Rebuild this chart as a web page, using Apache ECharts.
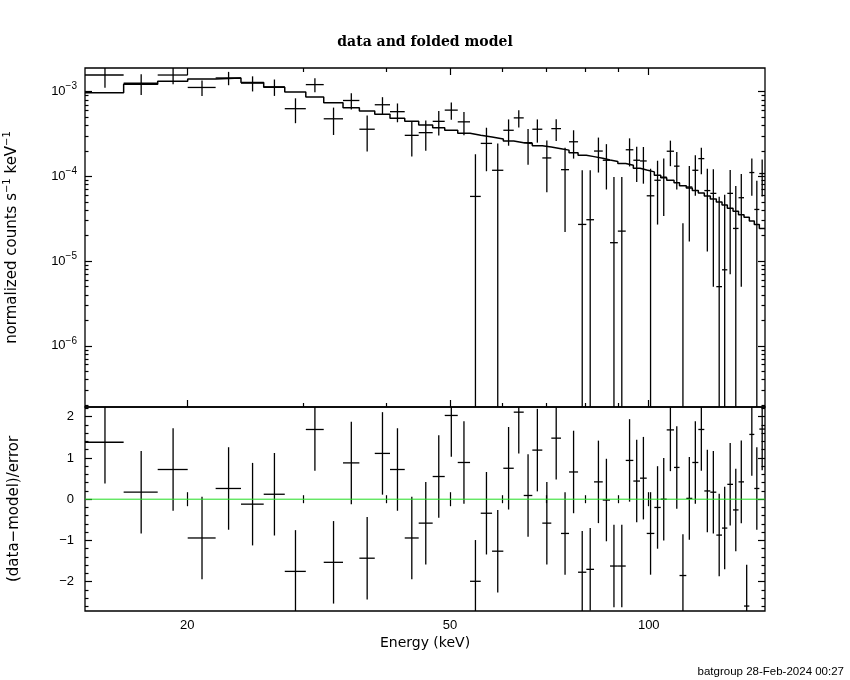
<!DOCTYPE html>
<html>
<head>
<meta charset="utf-8">
<title>data and folded model</title>
<script src="https://cdn.jsdelivr.net/npm/echarts@6/dist/echarts.min.js"></script>
<style>
  html, body { margin: 0; padding: 0; background: #fff; }
  #main { width: 850px; height: 680px; }
</style>
</head>
<body>
<div id="main"></div>
<script>
// energy bin edges (keV), 59 bins
var binEdges = [14.00, 16.02, 18.04, 20.03, 22.08, 24.12, 26.11, 28.10, 30.24, 32.19,
  34.43, 36.45, 38.46, 40.56, 42.70, 44.83, 47.07, 49.09, 51.37, 53.62,
  55.66, 57.90, 60.22, 62.45, 64.66, 66.63, 68.99, 71.19, 73.64, 75.73,
  78.15, 80.44, 82.63, 85.18, 87.37, 89.78, 92.29, 94.77, 97.01, 99.30,
  101.97, 104.27, 106.47, 109.22, 111.33, 114.00, 116.41, 118.88, 121.39, 123.96,
  126.58, 129.12, 131.53, 134.17, 136.77, 139.42, 142.02, 144.51, 147.06, 150.00];

// folded model, counts s^-1 keV^-1
var foldedModel = [9.73e-4, 1.22e-3, 1.33e-3, 1.41e-3, 1.45e-3, 1.28e-3, 1.13e-3, 9.9e-4, 8.63e-4, 7.41e-4,
  6.47e-4, 5.90e-4, 5.40e-4, 4.84e-4, 4.46e-4, 4.05e-4, 3.76e-4, 3.49e-4, 3.22e-4, 3.05e-4,
  2.91e-4, 2.76e-4, 2.61e-4, 2.50e-4, 2.45e-4, 2.30e-4, 2.22e-4, 2.12e-4, 2.04e-4, 1.90e-4,
  1.77e-4, 1.71e-4, 1.64e-4, 1.56e-4, 1.50e-4, 1.42e-4, 1.35e-4, 1.25e-4, 1.19e-4, 1.13e-4,
  1.03e-4, 9.65e-5, 9.0e-5, 8.4e-5, 7.75e-5, 7.28e-5, 6.8e-5, 6.35e-5, 5.85e-5, 5.39e-5,
  5.0e-5, 4.59e-5, 4.2e-5, 3.87e-5, 3.53e-5, 3.3e-5, 2.97e-5, 2.70e-5, 2.43e-5];

// measured rate and its 1-sigma error
var dataRate = [1.57e-3, 1.256e-3, 1.57e-3, 1.12e-3, 1.45e-3, 1.26e-3, 1.14e-3, 6.29e-4, 1.21e-3, 4.78e-4,
  7.86e-4, 3.6e-4, 7.0e-4, 5.8e-4, 3.05e-4, 3.28e-4, 4.46e-4, 6.05e-4, 4.4e-4, 5.8e-5,
  2.45e-4, 1.18e-4, 3.5e-4, 4.9e-4, 2.5e-4, 3.6e-4, 1.65e-4, 3.66e-4, 1.2e-4, 2.56e-4,
  2.71e-5, 3.08e-5, 1.99e-4, 1.55e-4, 1.65e-5, 2.26e-5, 2.06e-4, 1.55e-4, 1.52e-4, 5.9e-5,
  9.0e-5, 9.8e-5, 1.98e-4, 1.32e-4, -3.0e-5, 7.5e-5, 1.18e-4, 1.62e-4, 6.8e-5, 6.3e-5,
  5.0e-6, 7.9e-6, 6.3e-5, 2.43e-5, 5.6e-5, -9.5e-5, 1.11e-4, 4.07e-5, 1.08e-4];
var dataError = [4.6e-4, 3.44e-4, 3.5e-4, 2.35e-4, 2.6e-4, 2.55e-4, 2.5e-4, 2.05e-4, 2.25e-4, 1.7e-4,
  1.7e-4, 1.63e-4, 1.6e-4, 1.45e-4, 1.33e-4, 1.28e-4, 1.43e-4, 1.4e-4, 1.35e-4, 1.24e-4,
  1.3e-4, 1.27e-4, 1.2e-4, 1.13e-4, 1.13e-4, 1.1e-4, 1.0e-4, 1.05e-4, 9.8e-5, 9.4e-5,
  9.1e-5, 8.7e-5, 8.8e-5, 8.5e-5, 8.15e-5, 7.6e-5, 7.5e-5, 6.9e-5, 7.0e-5, 6.4e-5,
  6.3e-5, 6.4e-5, 6.6e-5, 6.2e-5, 5.8e-5, 5.8e-5, 5.9e-5, 5.6e-5, 5.5e-5, 5.8e-5,
  5.25e-5, 5.3e-5, 5.6e-5, 5.25e-5, 5.1e-5, 5.0e-5, 5.2e-5, 4.8e-5, 5.0e-5];

// (data-model)/error
var residual = [1.38, 0.17, 0.72, -0.94, 0.26, -0.12, 0.12, -1.75, 1.69, -1.53,
  0.88, -1.43, 1.11, 0.72, -0.94, -0.58, 0.55, 2.03, 0.89, -1.99,
  -0.34, -1.26, 0.75, 2.11, 0.09, 1.19, -0.58, 1.48, -0.83, 0.66,
  -1.77, -1.70, 0.42, -0.02, -1.62, -1.62, 0.94, 0.44, 0.51, -0.83,
  -0.20, 0.00, 1.68, 0.77, -1.85, 0.02, 0.89, 1.69, 0.20, 0.17,
  -0.87, -0.70, 0.36, -0.26, 0.42, -2.59, 1.57, 0.26, 1.70];

var energyRange = [14, 150];
var rateRange = [1.9e-7, 1.9e-3];
var residRange = [-2.71, 2.235];

var energyMajorTicks = [20, 50, 100];
var energyMinorTicks = [30, 40, 60, 70, 80, 90];
var rateDecades = [-6, -5, -4, -3];
var residMajorTicks = [-2, -1, 0, 1, 2];

var lg = Math.log10;
var FONT = 'Liberation Sans';
var NAME_FONT = 'DejaVu Sans';

var rateMinorTicks = [];
[-7, -6, -5, -4].forEach(function (n) {
  for (var k = 2; k <= 9; k++) rateMinorTicks.push(lg(k) + n);
});
var residMinorTicks = [];
for (var i = -13; i <= 11; i++) if (i % 5 !== 0) residMinorTicks.push(i / 5);

var eExt = [lg(energyRange[0]), lg(energyRange[1])];
var rExt = [lg(rateRange[0]), lg(rateRange[1])];
var below = rExt[0] - 1;

function tickAxis(grid, pos, ticks, len, extent, label) {
  var ax = {
    type: 'value', gridIndex: grid, position: pos,
    min: extent[0], max: extent[1],
    axisLine: { show: false },
    splitLine: { show: false },
    axisTick: { show: true, inside: true, length: len, customValues: ticks,
      lineStyle: { color: '#000', width: 1.2 } },
    axisLabel: { show: false }
  };
  if (label) {
    ax.axisLabel = Object.assign({ show: true, customValues: ticks, color: '#000',
      fontFamily: FONT, fontSize: 13 }, label);
  }
  return ax;
}

var eMajor = energyMajorTicks.map(lg);
var eMinor = energyMinorTicks.map(lg);

var xAxes = [
  tickAxis(0, 'bottom', eMajor, 7, eExt),
  tickAxis(0, 'bottom', eMinor, 4, eExt),
  tickAxis(0, 'top', eMajor, 7, eExt),
  tickAxis(0, 'top', eMinor, 4, eExt),
  tickAxis(1, 'bottom', eMajor, 7, eExt, {
    margin: 8,
    formatter: function (v) { return String(Math.round(Math.pow(10, v))); }
  }),
  tickAxis(1, 'bottom', eMinor, 4, eExt),
  tickAxis(1, 'top', eMajor, 7, eExt),
  tickAxis(1, 'top', eMinor, 4, eExt)
];
xAxes[4].name = 'Energy (keV)';
xAxes[4].nameLocation = 'middle';
xAxes[4].nameGap = 25;
xAxes[4].nameTextStyle = { fontFamily: NAME_FONT, fontSize: 14, color: '#000' };

var yAxes = [
  tickAxis(0, 'left', rateDecades, 7, rExt, {
    margin: 8,
    formatter: function (v) { return '{b|10}{s|\u2212' + Math.round(-v) + '}'; },
    rich: {
      b: { fontFamily: FONT, fontSize: 13, color: '#000' },
      s: { fontFamily: FONT, fontSize: 10, color: '#000', padding: [0, 0, 10, 0] }
    }
  }),
  tickAxis(0, 'left', rateMinorTicks, 3.5, rExt),
  tickAxis(0, 'right', rateDecades, 7, rExt),
  tickAxis(0, 'right', rateMinorTicks, 3.5, rExt),
  tickAxis(1, 'left', residMajorTicks, 7, residRange, {
    margin: 11,
    formatter: function (v) { return v < 0 ? '\u2212' + (-v) : String(v); }
  }),
  tickAxis(1, 'left', residMinorTicks, 3.5, residRange),
  tickAxis(1, 'right', residMajorTicks, 7, residRange),
  tickAxis(1, 'right', residMinorTicks, 3.5, residRange)
];
yAxes[0].name = 'normalized counts s{sup|\u22121} keV{sup|\u22121}';
yAxes[0].nameLocation = 'middle';
yAxes[0].nameGap = 63;
yAxes[0].nameTextStyle = { fontFamily: NAME_FONT, fontSize: 15, color: '#000',
  rich: { sup: { fontFamily: NAME_FONT, fontSize: 10, color: '#000', padding: [0, 0, 10, 0] } } };
yAxes[4].name = '(data\u2212model)/error';
yAxes[4].nameLocation = 'middle';
yAxes[4].nameGap = 63;
yAxes[4].nameTextStyle = { fontFamily: NAME_FONT, fontSize: 15, color: '#000' };

// step model: value holds across each bin
var modelLine = foldedModel.map(function (m, i) { return [lg(binEdges[i]), lg(m)]; });
modelLine.push([lg(binEdges[binEdges.length - 1]), lg(foldedModel[foldedModel.length - 1])]);

function binRow(i, y, ylo, yhi, hasBar) {
  var lo = binEdges[i], hi = binEdges[i + 1];
  return [lg(lo), lg(hi), lg((lo + hi) / 2), y, ylo, yhi, hasBar];
}

var rateRows = dataRate.map(function (d, i) {
  var e = dataError[i];
  return binRow(i,
    d > 0 ? lg(d) : below,
    d - e > 0 ? lg(d - e) : below,
    d + e > 0 ? lg(d + e) : below,
    d > 0 ? 1 : 0);
});
var residRows = residual.map(function (r, i) {
  return binRow(i, r, r - 1, r + 1, 1);
});

var inkStyle = { stroke: '#000', lineWidth: 1.3 };
function errorCross(params, api) {
  var a = api.coord([api.value(0), api.value(3)]);
  var b = api.coord([api.value(1), api.value(3)]);
  var t = api.coord([api.value(2), api.value(5)]);
  var u = api.coord([api.value(2), api.value(4)]);
  var kids = [{ type: 'line', shape: { x1: u[0], y1: u[1], x2: t[0], y2: t[1] }, style: inkStyle }];
  if (api.value(6)) {
    kids.push({ type: 'line', shape: { x1: a[0], y1: a[1], x2: b[0], y2: b[1] }, style: inkStyle });
  }
  return { type: 'group', children: kids };
}

var chart = echarts.init(document.getElementById('main'), null, { renderer: 'canvas' });
chart.setOption({
  animation: false,
  backgroundColor: '#fff',
  title: [{
    text: 'data and folded model', left: 'center', top: 30,
    textStyle: { fontFamily: 'DejaVu Serif', fontWeight: 'bold', fontSize: 14, color: '#000' }
  }, {
    text: 'batgroup 28-Feb-2024 00:27', right: 1, top: 661,
    textStyle: { fontFamily: FONT, fontWeight: 'normal', fontSize: 11.5, color: '#000' }
  }],
  grid: [
    { left: 85, top: 68, width: 680, height: 339, show: true, borderColor: '#000', borderWidth: 1.3,
      backgroundColor: 'transparent', containLabel: false, outerBoundsMode: 'none' },
    { left: 85, top: 407, width: 680, height: 204, show: true, borderColor: '#000', borderWidth: 1.3,
      backgroundColor: 'transparent', containLabel: false, outerBoundsMode: 'none' }
  ],
  xAxis: xAxes,
  yAxis: yAxes,
  series: [
    {
      type: 'line', xAxisIndex: 0, yAxisIndex: 0, step: 'end', symbol: 'none',
      data: modelLine, lineStyle: { color: '#000', width: 1.5 }, z: 3
    },
    {
      type: 'custom', xAxisIndex: 0, yAxisIndex: 0, clip: true,
      renderItem: errorCross, data: rateRows, z: 2
    },
    {
      type: 'custom', xAxisIndex: 4, yAxisIndex: 4, clip: true,
      renderItem: errorCross, data: residRows, z: 2
    },
    {
      type: 'line', xAxisIndex: 4, yAxisIndex: 4, symbol: 'none',
      data: [[eExt[0], 0], [eExt[1], 0]],
      lineStyle: { color: '#22dd22', width: 1 }, z: 4
    }
  ]
});
</script>
</body>
</html>
